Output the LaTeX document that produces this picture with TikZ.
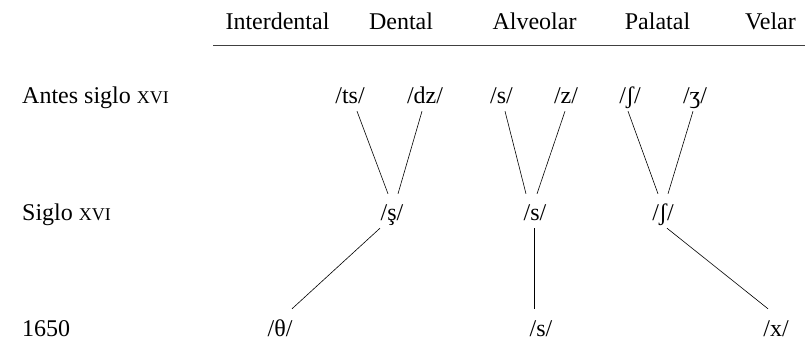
\documentclass[tikz,border=0pt]{standalone}
\usepackage{fontspec}
\setmainfont{Liberation Serif}
\newcommand{\xvi}{{\fontsize{18}{20}\selectfont XVI}}

\begin{document}
\begin{tikzpicture}[x=1pt, y=-1pt, font=\fontsize{24}{28}\selectfont,
  head/.style={anchor=base, inner sep=0pt},
  era/.style={anchor=base west, inner sep=0pt},
  ph/.style={anchor=base, inner xsep=0pt, inner ysep=0pt, text height=27pt, text depth=7pt},
  link/.style={line width=0.6pt}]

\useasboundingbox (0,0) rectangle (805,344);

% column heads
\node[head] (hinter) at (277.5,30) {Interdental};
\node[head] (hdent)  at (401,30)   {Dental};
\node[head] (halv)   at (534.5,30) {Alveolar};
\node[head] (hpal)   at (657.5,30) {Palatal};
\node[head] (hvel)   at (770.5,30) {Velar};
\coordinate (rulel) at (213,45);
\coordinate (ruler) at (805,45);
\draw[line width=0.6pt, black!75] (rulel) -- (ruler);

% periods
\node[era] (antes) at (22,104) {Antes siglo \xvi};
\node[era] (siglo) at (22,221) {Siglo \xvi};
\node[era] (year)  at (22,336) {1650};

% before the 16th century
\node[ph] (ts) at (350,104)   {/ts/};
\node[ph] (dz) at (425,104)   {/dz/};
\node[ph] (s)  at (501.5,104) {/s/};
\node[ph] (z)  at (566,104)   {/z/};
\node[ph] (sh) at (630,104)   {/ʃ/};
\node[ph] (zh) at (695,104)   {/ʒ/};

% 16th century
\node[ph] (sd)  at (392,221) {/ş/};
\node[ph] (s2)  at (535,221) {/s/};
\node[ph] (sh2) at (663,221) {/ʃ/};

% 1650
\node[ph] (th) at (280,336) {/θ/};
\node[ph] (s3) at (541,336) {/s/};
\node[ph] (x)  at (776,336) {/x/};

% mergers
\draw[link] ([xshift=7pt]ts.south) -- ([xshift=-4pt]sd.north);
\draw[link] ([xshift=-3pt]dz.south) -- ([xshift=6pt]sd.north);
\draw[link] ([xshift=3.5pt]s.south) -- ([xshift=-9pt]s2.north);
\draw[link] ([xshift=-1pt]z.south) -- ([xshift=2pt]s2.north);
\draw[link] ([xshift=-2pt]sh.south) -- ([xshift=-5pt]sh2.north);
\draw[link] ([xshift=-2pt]zh.south) -- ([xshift=5pt]sh2.north);

% later changes
\draw[link] ([xshift=-12pt]sd.south) -- ([xshift=12pt]th.north);
\draw[link] ([xshift=-1pt]s2.south) -- ([xshift=-1pt]s2.south |- s3.north);
\draw[link] ([xshift=4pt]sh2.south) -- ([xshift=-8pt]x.north);

\end{tikzpicture}
\end{document}
